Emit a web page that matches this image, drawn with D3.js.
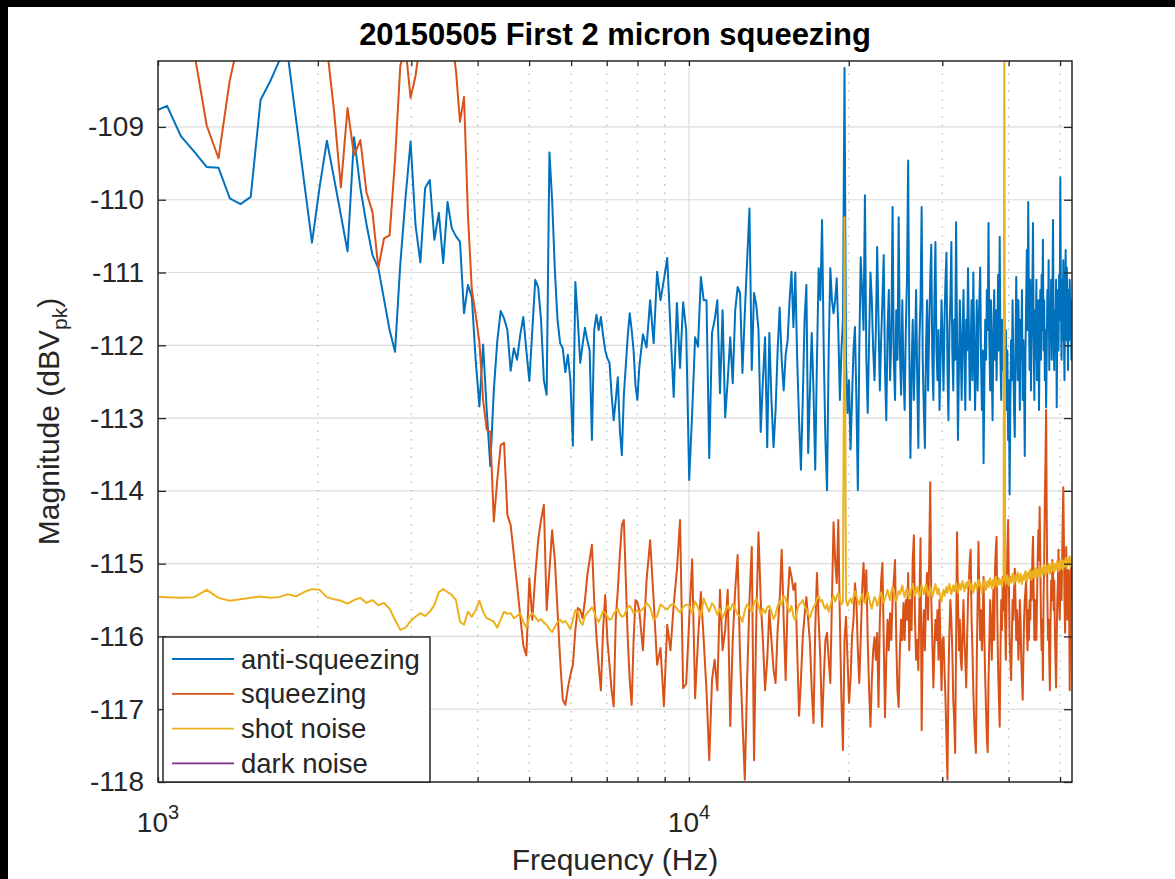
<!DOCTYPE html>
<html>
<head>
<meta charset="utf-8">
<script src="https://cdn.jsdelivr.net/npm/d3@7"></script>
<style>
  body { margin: 0; background: #fff; }
  svg { display: block; }
</style>
</head>
<body>
<svg id="chart" width="1175" height="879"></svg>
<script>
// FFT bins are 65 Hz apart: every bin below 8 kHz, every other bin above
const lowFreq = d3.range(975, 8000, 65);      // 109 bins
const highFreq = d3.range(8060, 52651, 130);  // 344 bins

// anti-squeezing (dBVpk)
const antiLow = [
  -108.80, -108.71, -109.13, -109.34, -109.55, -109.56, -109.98, -110.06, -109.96, -108.63,
  -108.38, -108.10, -108.00, -108.90, -109.76, -110.59, -109.83, -109.19, -109.70, -110.21,
  -110.71, -109.14, -109.84, -110.34, -110.76, -110.94, -111.37, -111.79, -112.09, -110.88,
  -109.98, -109.20, -110.35, -110.86, -109.84, -109.73, -110.55, -110.18, -110.87, -110.03,
  -110.39, -110.50, -110.58, -111.56, -111.17, -111.34, -112.20, -112.84, -111.99, -112.89,
  -113.66, -112.62, -111.94, -111.53, -111.63, -111.79, -112.35, -112.04, -112.20, -111.86,
  -111.61, -112.07, -112.49, -111.79, -111.10, -111.20, -111.65, -112.48, -112.68, -109.35,
  -110.01, -110.97, -111.65, -111.97, -112.04, -112.37, -112.13, -112.48, -113.38, -111.13,
  -111.65, -112.24, -111.99, -111.76, -111.93, -112.07, -113.30, -111.79, -111.58, -111.79,
  -111.61, -111.86, -112.07, -112.18, -112.24, -112.68, -113.03, -112.75, -112.44, -113.16,
  -113.51, -112.68, -112.27, -111.86, -111.56, -111.79, -112.07, -112.55, -112.75
];
const antiHigh = [
  -112.31, -111.85, -112.03, -111.38, -111.97, -110.99, -111.38, -111.10, -110.80, -111.79,
  -112.71, -111.42, -112.31, -111.41, -111.79, -113.85, -112.93, -111.89, -112.02, -111.06,
  -111.38, -111.38, -113.55, -111.83, -111.65, -111.38, -112.66, -111.52, -112.99, -112.48,
  -111.89, -112.52, -111.52, -111.20, -111.28, -112.38, -111.56, -110.83, -110.12, -112.34,
  -111.28, -111.45, -111.79, -113.19, -112.48, -111.89, -113.40, -111.83, -112.75, -113.40,
  -112.89, -112.07, -111.48, -112.20, -112.62, -112.13, -111.93, -111.38, -110.99, -111.75,
  -111.00, -112.20, -113.03, -113.71, -112.75, -111.65, -111.17, -113.48, -112.62, -111.83,
  -112.62, -113.71, -112.20, -110.94, -111.38, -110.28, -112.07, -113.30, -113.99, -112.07,
  -110.94, -111.38, -111.56, -111.38, -111.08, -111.79, -112.75, -112.07, -111.65, -108.19,
  -112.20, -112.93, -112.48, -113.43, -112.75, -112.07, -111.75, -112.75, -113.99, -112.07,
  -110.79, -111.24, -111.79, -109.94, -112.20, -112.93, -111.93, -111.00, -111.38, -112.07,
  -112.48, -111.79, -110.65, -111.65, -112.62, -111.93, -111.38, -110.76, -112.34, -113.03,
  -111.79, -111.24, -112.48, -111.93, -110.10, -112.20, -112.75, -111.52, -112.20, -110.24,
  -112.07, -112.68, -111.38, -112.34, -112.89, -111.79, -111.10, -109.46, -112.07, -113.55,
  -112.34, -111.65, -112.75, -112.07, -111.24, -112.48, -113.41, -111.93, -111.38, -110.10,
  -112.20, -112.89, -113.41, -112.07, -111.38, -112.62, -111.79, -111.10, -110.62, -112.20,
  -112.75, -111.38, -110.58, -112.07, -112.48, -111.79, -112.89, -112.20, -111.38, -111.93,
  -112.62, -111.65, -111.10, -110.73, -112.34, -113.03, -111.79, -111.38, -110.58, -112.07,
  -112.62, -111.65, -112.20, -110.31, -111.93, -113.30, -112.34, -111.38, -112.07, -112.75,
  -111.79, -111.24, -112.20, -112.89, -111.65, -112.07, -110.94, -111.79, -112.75, -112.07,
  -111.38, -112.48, -111.00, -111.93, -112.89, -112.20, -111.38, -112.62, -111.79, -111.38,
  -110.93, -112.20, -112.89, -112.07, -113.62, -112.48, -111.65, -112.20, -111.24, -111.79,
  -110.32, -111.93, -112.62, -111.38, -112.34, -113.03, -111.79, -111.24, -112.20, -111.52,
  -112.48, -111.79, -111.03, -112.07, -110.51, -112.20, -112.75, -111.65, -112.34, -111.93,
  -111.38, -112.48, -111.79, -112.89, -112.07, -113.30, -112.48, -114.05, -112.75, -111.93,
  -112.48, -111.38, -112.20, -112.89, -113.26, -112.07, -111.06, -111.79, -112.48, -111.38,
  -112.07, -112.89, -111.65, -112.20, -111.24, -112.75, -111.93, -112.48, -113.52, -112.07,
  -111.38, -110.69, -111.79, -110.03, -111.52, -112.34, -111.10, -112.62, -111.79, -111.24,
  -110.32, -111.93, -112.75, -111.52, -112.20, -111.10, -112.48, -111.79, -111.38, -112.89,
  -111.93, -111.24, -112.20, -111.03, -111.79, -110.55, -112.07, -111.38, -112.48, -111.79,
  -112.85, -112.07, -111.24, -111.79, -110.83, -112.34, -111.52, -111.93, -111.10, -112.20,
  -111.38, -110.28, -111.79, -112.34, -111.52, -112.07, -111.10, -112.85, -111.79, -111.24,
  -112.07, -111.03, -111.65, -109.69, -111.38, -112.20, -111.10, -111.93, -110.83, -111.79,
  -112.48, -111.38, -110.69, -111.93, -110.93, -111.52, -112.34, -111.24, -111.93, -111.10,
  -111.65, -111.38, -112.20, -111.52
];

// squeezing (dBVpk); values above -108.1 run off the top of the axes
const sqzLow = [
  -107.40, -107.60, -107.80, -107.97, -108.98, -109.43, -108.36, -107.70, -107.50, -107.30,
  -107.20, -107.40, -107.30, -107.60, -107.50, -107.40, -107.70, -107.90, -108.77, -109.83,
  -108.74, -109.39, -109.18, -109.90, -110.17, -110.94, -110.53, -110.49, -109.46, -108.16,
  -107.90, -108.60, -108.30, -107.80, -107.60, -107.40, -107.50, -107.30, -107.50, -107.60,
  -107.80, -108.22, -108.93, -108.59, -110.21, -111.24, -111.58, -111.96, -112.75, -113.16,
  -113.19, -114.42, -113.85, -113.37, -113.34, -114.33, -114.47, -114.88, -115.29, -115.71,
  -116.12, -116.26, -115.20, -115.77, -115.16, -114.68, -114.40, -114.19, -115.64, -115.09,
  -114.54, -114.95, -115.64, -116.32, -116.87, -116.94, -116.71, -116.53, -116.39, -115.91,
  -115.61, -115.64, -115.75, -115.50, -115.16, -114.95, -114.74, -115.50, -116.00, -116.39,
  -116.74, -115.91, -115.43, -116.05, -116.39, -116.74, -116.96, -115.77, -115.36, -114.88,
  -114.47, -114.40, -115.23, -116.05, -116.60, -116.94, -116.05, -115.50, -115.53
];
const sqzHigh = [
  -115.64, -116.19, -115.23, -114.68, -115.50, -116.39, -116.16, -116.96, -115.84, -116.19,
  -115.57, -115.09, -114.40, -116.71, -116.65, -115.77, -114.94, -116.85, -116.05, -115.39,
  -116.05, -116.74, -117.70, -116.60, -116.32, -116.74, -115.36, -116.19, -115.91, -115.36,
  -117.23, -116.05, -115.36, -114.88, -116.28, -117.15, -117.97, -116.60, -115.50, -114.77,
  -117.70, -115.77, -114.57, -115.50, -116.05, -116.74, -116.32, -115.64, -116.05, -116.46,
  -116.64, -115.91, -115.50, -114.81, -115.77, -116.60, -115.50, -115.05, -115.18, -115.36,
  -115.27, -116.19, -117.09, -116.60, -116.01, -115.71, -115.46, -115.77, -116.09, -116.74,
  -117.19, -115.91, -115.13, -115.77, -116.32, -117.24, -116.60, -116.05, -115.95, -116.32,
  -116.64, -115.50, -114.43, -114.95, -115.27, -114.40, -115.77, -116.87, -117.56, -116.05,
  -115.73, -116.32, -116.91, -116.60, -116.01, -115.77, -115.27, -115.50, -116.19, -116.64,
  -116.05, -115.36, -114.99, -115.50, -115.09, -116.05, -116.74, -117.24, -116.60, -116.19,
  -116.01, -116.32, -115.95, -116.97, -115.77, -115.23, -114.99, -116.05, -117.11, -116.32,
  -115.77, -116.19, -115.68, -116.05, -115.50, -115.23, -114.95, -116.05, -116.74, -116.97,
  -116.19, -115.77, -116.05, -115.54, -116.05, -115.50, -115.77, -115.13, -116.19, -115.50,
  -115.91, -114.95, -114.61, -115.77, -116.32, -116.05, -116.46, -115.50, -114.65, -117.29,
  -116.05, -115.64, -116.19, -115.50, -115.13, -115.77, -114.95, -113.88, -115.50, -116.05,
  -116.70, -116.19, -115.77, -116.05, -115.64, -116.32, -115.50, -116.19, -116.74, -116.05,
  -116.01, -116.46, -116.87, -117.42, -117.97, -116.60, -115.91, -115.50, -115.77, -116.19,
  -116.87, -117.15, -117.60, -116.05, -114.57, -115.50, -116.19, -115.77, -116.32, -116.46,
  -115.91, -115.50, -116.05, -116.32, -116.70, -116.05, -115.50, -115.23, -114.95, -114.81,
  -115.77, -116.19, -116.74, -117.15, -117.42, -117.60, -116.32, -115.50, -114.70, -115.50,
  -116.05, -115.64, -116.19, -115.77, -115.18, -116.05, -116.60, -117.01, -117.42, -117.59,
  -116.60, -116.05, -115.50, -115.87, -116.32, -115.77, -115.36, -116.05, -115.09, -114.81,
  -114.63, -115.77, -116.46, -116.87, -117.24, -116.19, -115.50, -115.91, -115.18, -115.64,
  -114.95, -115.77, -116.32, -115.50, -114.81, -114.40, -115.23, -116.05, -116.32, -116.60,
  -116.05, -115.50, -115.77, -115.36, -115.07, -115.50, -116.05, -115.64, -115.87, -116.32,
  -116.05, -115.50, -115.77, -116.32, -116.60, -116.87, -116.32, -115.77, -115.50, -115.36,
  -115.23, -115.91, -116.19, -115.64, -116.05, -115.50, -115.77, -115.09, -115.50, -114.95,
  -114.63, -115.36, -116.05, -115.50, -115.77, -116.05, -115.50, -114.95, -114.54, -114.95,
  -114.22, -114.95, -115.77, -116.19, -115.77, -116.60, -115.50, -114.95, -114.13, -113.58,
  -112.89, -114.40, -115.50, -116.05, -115.77, -116.32, -116.74, -115.77, -115.23, -115.50,
  -114.95, -115.09, -115.64, -115.23, -115.91, -116.32, -116.70, -116.05, -115.50, -115.23,
  -114.81, -115.50, -115.77, -115.36, -115.09, -115.50, -114.95, -114.40, -113.95, -114.68,
  -115.50, -115.95, -115.36, -114.77, -115.23, -115.77, -115.50, -115.09, -115.64, -116.74,
  -115.77, -114.95, -115.50, -114.95
];

// shot noise (dBVpk)
const shotLow = [
  -115.45, -115.46, -115.47, -115.46, -115.36, -115.47, -115.51, -115.49, -115.47, -115.45,
  -115.47, -115.46, -115.42, -115.45, -115.39, -115.35, -115.36, -115.46, -115.49, -115.51,
  -115.55, -115.50, -115.47, -115.54, -115.50, -115.57, -115.54, -115.62, -115.77, -115.91,
  -115.88, -115.79, -115.73, -115.68, -115.72, -115.66, -115.57, -115.39, -115.35, -115.39,
  -115.43, -115.50, -115.80, -115.84, -115.66, -115.73, -115.64, -115.51, -115.66, -115.75,
  -115.77, -115.80, -115.88, -115.77, -115.66, -115.69, -115.68, -115.75, -115.72, -115.68,
  -115.80, -115.88, -115.73, -115.68, -115.73, -115.79, -115.76, -115.81, -115.84, -115.90,
  -115.94, -115.87, -115.80, -115.77, -115.81, -115.79, -115.84, -115.90, -115.77, -115.64,
  -115.66, -115.80, -115.84, -115.72, -115.68, -115.64, -115.60, -115.66, -115.75, -115.80,
  -115.73, -115.65, -115.68, -115.73, -115.77, -115.76, -115.69, -115.65, -115.62, -115.69,
  -115.73, -115.72, -115.66, -115.60, -115.58, -115.62, -115.68, -115.66, -115.65
];
const shotHigh = [
  -115.66, -115.62, -115.54, -115.60, -115.77, -115.72, -115.56, -115.60, -115.63, -115.57,
  -115.55, -115.62, -115.67, -115.60, -115.56, -115.58, -115.68, -115.52, -115.60, -115.74,
  -115.48, -115.58, -115.66, -115.54, -115.60, -115.70, -115.62, -115.75, -115.66, -115.58,
  -115.64, -115.55, -115.62, -115.70, -115.72, -115.80, -115.64, -115.56, -115.60, -115.66,
  -115.54, -115.48, -115.58, -115.70, -115.62, -115.68, -115.60, -115.58, -115.66, -115.76,
  -115.70, -115.58, -115.52, -115.56, -115.44, -115.48, -115.60, -115.66, -115.58, -115.72,
  -115.78, -115.64, -115.56, -115.54, -115.50, -115.58, -115.62, -115.70, -115.74, -115.66,
  -115.60, -115.56, -115.48, -115.44, -115.52, -115.50, -115.58, -115.62, -115.56, -115.66,
  -115.58, -115.50, -115.44, -115.52, -115.46, -115.40, -115.48, -115.56, -115.52, -110.24,
  -115.50, -115.58, -115.52, -115.48, -115.54, -115.46, -115.38, -115.44, -115.52, -115.56,
  -115.48, -115.42, -115.50, -115.54, -115.46, -115.40, -115.48, -115.56, -115.62, -115.52,
  -115.46, -115.50, -115.58, -115.52, -115.44, -115.40, -115.46, -115.54, -115.48, -115.42,
  -115.36, -115.44, -115.50, -115.38, -115.32, -115.40, -115.46, -115.52, -115.44, -115.38,
  -115.42, -115.36, -115.30, -115.40, -115.46, -115.38, -115.34, -115.42, -115.48, -115.40,
  -115.34, -115.28, -115.36, -115.44, -115.38, -115.32, -115.40, -115.46, -115.38, -115.30,
  -115.36, -115.42, -115.34, -115.28, -115.36, -115.44, -115.40, -115.32, -115.38, -115.46,
  -115.40, -115.34, -115.28, -115.36, -115.42, -115.34, -115.40, -115.48, -115.52, -115.42,
  -115.36, -115.44, -115.38, -115.32, -115.40, -115.34, -115.28, -115.36, -115.42, -115.34,
  -115.30, -115.38, -115.32, -115.26, -115.34, -115.40, -115.32, -115.28, -115.36, -115.30,
  -115.24, -115.32, -115.38, -115.30, -115.26, -115.34, -115.28, -115.22, -115.30, -115.36,
  -115.28, -115.34, -115.40, -115.32, -115.26, -115.30, -115.36, -115.28, -115.22, -115.30,
  -115.26, -115.34, -115.40, -115.32, -115.28, -115.22, -115.30, -115.36, -115.28, -115.24,
  -115.32, -115.26, -115.20, -115.28, -115.34, -115.26, -115.22, -115.30, -115.24, -115.18,
  -115.26, -115.32, -115.24, -115.20, -115.28, -115.22, -115.26, -115.32, -115.24, -115.20,
  -107.50, -115.22, -115.28, -115.22, -115.16, -115.24, -115.30, -115.22, -115.18, -115.26,
  -115.20, -115.14, -115.22, -115.28, -115.20, -115.16, -115.24, -115.18, -115.12, -115.20,
  -115.26, -115.18, -115.14, -115.22, -115.28, -115.20, -115.16, -115.22, -115.14, -115.10,
  -115.18, -115.24, -115.16, -115.12, -115.20, -115.14, -115.08, -115.16, -115.22, -115.14,
  -115.10, -115.18, -115.12, -115.06, -115.14, -115.20, -115.12, -115.08, -115.16, -115.10,
  -115.04, -115.12, -115.18, -115.10, -115.06, -115.14, -115.08, -115.02, -115.10, -115.16,
  -115.08, -115.04, -115.12, -115.06, -115.00, -115.08, -115.14, -115.06, -115.02, -115.10,
  -115.04, -114.98, -115.06, -115.12, -115.04, -115.00, -115.08, -115.02, -114.96, -115.04,
  -115.10, -115.02, -114.98, -115.06, -115.00, -114.94, -115.02, -115.08, -115.00, -114.96,
  -115.04, -114.98, -114.92, -115.00, -115.06, -114.98, -114.94, -115.02, -114.96, -114.90,
  -114.98, -115.04, -114.96, -114.92
];

// dark noise lies below the visible range, only its legend entry shows
const darkDb = [];

const yTicks = [-118, -117, -116, -115, -114, -113, -112, -111, -110, -109];
const xMajor = [1e3, 1e4];
const xMinor = [2e3, 3e3, 4e3, 5e3, 6e3, 7e3, 8e3, 9e3, 2e4, 3e4, 4e4, 5e4];

const seriesNames = ["anti-squeezing", "squeezing", "shot noise", "dark noise"];
const seriesColors = ["#0072BD", "#D95319", "#EDB120", "#7E2F8E"];

const freq = lowFreq.concat(highFreq);
const series = [
  d3.zip(freq, antiLow.concat(antiHigh)),
  d3.zip(freq, sqzLow.concat(sqzHigh)),
  d3.zip(freq, shotLow.concat(shotHigh)),
  darkDb
];

const W = 1175, H = 879;
const ink = "#262626";
const FONT = '"Liberation Sans", Arial, Helvetica, sans-serif';

const x = d3.scaleLog().domain([1000, 52650]).range([158, 1072]);
const y = d3.scaleLinear().domain([-118, -108.094]).range([782, 61]);
const [x0, x1] = x.range();
const [y0, y1] = y.range();

const svg = d3.select("#chart").attr("font-family", FONT);

// dark edges of the original screen grab
svg.append("rect").attr("x", 0).attr("y", 0).attr("width", W).attr("height", 7).attr("fill", "#000");
svg.append("rect").attr("x", 0).attr("y", 0).attr("width", 8).attr("height", H).attr("fill", "#000");

// grid
const grid = svg.append("g");
grid.selectAll("line.h").data(yTicks.slice(1)).join("line")
  .attr("class", "h")
  .attr("x1", x0).attr("x2", x1)
  .attr("y1", d => y(d)).attr("y2", d => y(d))
  .attr("stroke", "#dcdcdc").attr("stroke-width", 1.2);
grid.selectAll("line.vm").data(xMinor).join("line")
  .attr("class", "vm")
  .attr("x1", d => x(d)).attr("x2", d => x(d))
  .attr("y1", y1 + 4).attr("y2", y0)
  .attr("stroke", "#b8b8b8").attr("stroke-width", 1.2)
  .attr("stroke-dasharray", "1.5 7");
grid.selectAll("line.vM").data(xMajor.slice(1)).join("line")
  .attr("class", "vM")
  .attr("x1", d => x(d)).attr("x2", d => x(d))
  .attr("y1", y1).attr("y2", y0)
  .attr("stroke", "#dcdcdc").attr("stroke-width", 1.2);

// data
svg.append("clipPath").attr("id", "plotclip")
  .append("rect").attr("x", x0).attr("y", y1).attr("width", x1 - x0).attr("height", y0 - y1);

const line = d3.line().x(d => x(d[0])).y(d => y(d[1]));
svg.append("g").attr("clip-path", "url(#plotclip)")
  .selectAll("path").data(series).join("path")
  .attr("d", d => d.length ? line(d) : null)
  .attr("fill", "none")
  .attr("stroke", (d, i) => seriesColors[i])
  .attr("stroke-width", 2)
  .attr("stroke-linejoin", "round");

// axes (ticks point inward, box on)
function styleTicks(g) {
  g.select(".domain").remove();
  g.selectAll(".tick line").attr("stroke", ink).attr("stroke-width", 1.3);
}
const xTickVals = xMajor.concat(xMinor);
svg.append("g").attr("transform", `translate(0,${y0})`)
  .call(d3.axisBottom(x).tickValues(xTickVals).tickSize(-5).tickSizeOuter(0).tickFormat(""))
  .call(styleTicks);
svg.append("g").attr("transform", `translate(0,${y1})`)
  .call(d3.axisTop(x).tickValues(xTickVals).tickSize(-5).tickSizeOuter(0).tickFormat(""))
  .call(styleTicks);
const gy = svg.append("g").attr("transform", `translate(${x0},0)`)
  .call(d3.axisLeft(y).tickValues(yTicks).tickSize(-8).tickSizeOuter(0).tickPadding(14)
    .tickFormat(d => String(d)))
  .call(styleTicks);
gy.selectAll("text").attr("font-family", FONT).attr("font-size", 28).attr("fill", ink);
svg.append("g").attr("transform", `translate(${x1},0)`)
  .call(d3.axisRight(y).tickValues(yTicks).tickSize(-8).tickSizeOuter(0).tickFormat(""))
  .call(styleTicks);

svg.append("rect")
  .attr("x", x0).attr("y", y1).attr("width", x1 - x0).attr("height", y0 - y1)
  .attr("fill", "none").attr("stroke", ink).attr("stroke-width", 1.5);

// x tick labels 10^n
const xl = svg.append("g").selectAll("text").data(xMajor).join("text")
  .attr("x", d => x(d)).attr("y", 832)
  .attr("text-anchor", "middle").attr("font-size", 28).attr("fill", ink);
xl.append("tspan").text("10");
xl.append("tspan").attr("dy", -13).attr("font-size", 20).text(d => Math.round(Math.log10(d)));

// labels and title
svg.append("text")
  .attr("x", (x0 + x1) / 2).attr("y", 870)
  .attr("text-anchor", "middle").attr("font-size", 30).attr("fill", ink)
  .text("Frequency (Hz)");

const yl = svg.append("text")
  .attr("transform", `translate(59,${(y0 + y1) / 2}) rotate(-90)`)
  .attr("text-anchor", "middle").attr("font-size", 30).attr("fill", ink);
yl.append("tspan").text("Magnitude (dBV");
yl.append("tspan").attr("dy", 8).attr("font-size", 21).text("pk");
yl.append("tspan").attr("dy", -8).text(")");

svg.append("text")
  .attr("x", (x0 + x1) / 2).attr("y", 45)
  .attr("text-anchor", "middle").attr("font-size", 31).attr("font-weight", "bold").attr("fill", "#000")
  .text("20150505 First 2 micron squeezing");

// legend
const lg = svg.append("g");
lg.append("rect")
  .attr("x", 163).attr("y", 637).attr("width", 267).attr("height", 145)
  .attr("fill", "#fff").attr("stroke", ink).attr("stroke-width", 1.5);
const rows = lg.selectAll("g").data(seriesNames).join("g")
  .attr("transform", (d, i) => `translate(0,${659 + i * 34.8})`);
rows.append("line")
  .attr("x1", 172).attr("x2", 234)
  .attr("stroke", (d, i) => seriesColors[i]).attr("stroke-width", 1.8);
rows.append("text")
  .attr("x", 241).attr("dy", "0.35em")
  .attr("font-size", 27.5).attr("fill", ink)
  .text(d => d);
</script>
</body>
</html>
